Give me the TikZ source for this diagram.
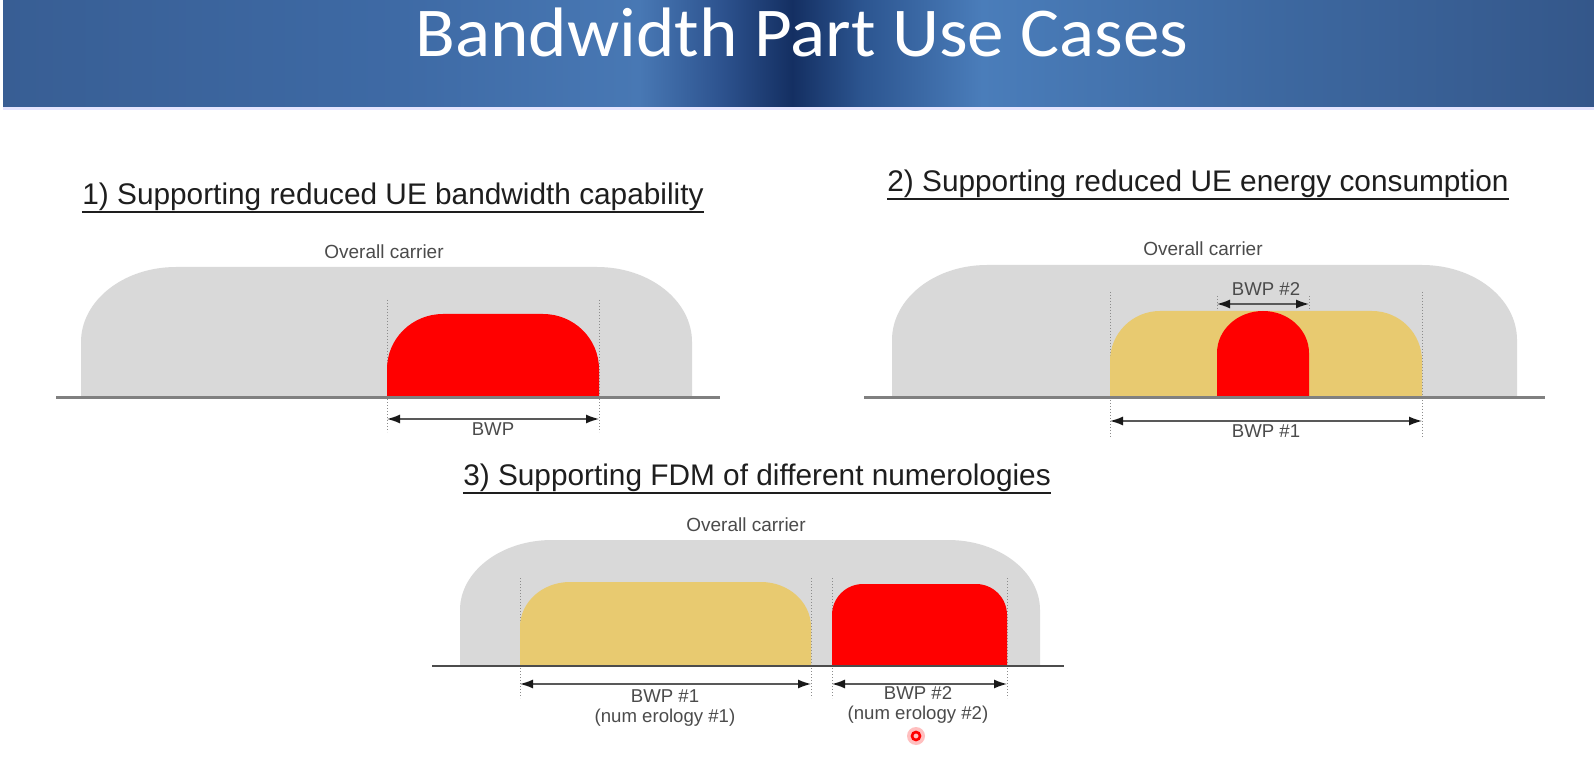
\documentclass[tikz,border=0pt]{standalone}
\usepackage{fontspec}
\setmainfont{Liberation Sans}
\newfontfamily\titlefont{Carlito}
\usetikzlibrary{arrows.meta}
\definecolor{carrier}{RGB}{217,217,217}
\definecolor{bwpred}{RGB}{255,0,0}
\definecolor{bwpyel}{RGB}{232,202,112}
\definecolor{baseln}{RGB}{128,128,128}
\definecolor{ttxt}{RGB}{30,30,30}
\definecolor{ltxt}{RGB}{75,75,75}
\definecolor{hbA}{RGB}{56,94,148}
\definecolor{hbB}{RGB}{62,106,165}
\definecolor{hbC}{RGB}{72,120,180}
\definecolor{hbD}{RGB}{46,84,144}
\definecolor{hbE}{RGB}{20,47,98}
\definecolor{hbF}{RGB}{44,85,144}
\definecolor{hbG}{RGB}{74,125,186}
\definecolor{hbH}{RGB}{61,104,160}
\definecolor{hbI}{RGB}{52,87,138}
\pgfdeclarehorizontalshading{hdr}{100bp}{color(0bp)=(hbA); color(25bp)=(hbA); color(37.5bp)=(hbB); color(45bp)=(hbC); color(47.5bp)=(hbD); color(49.8bp)=(hbE); color(52bp)=(hbF); color(55.75bp)=(hbG); color(65bp)=(hbH); color(75bp)=(hbI); color(100bp)=(hbI)}
\newcommand\bumpshape[7]{%
  \fill[#1] (#2,#5) -- (#2,#4+#7) .. controls (#2,#4+0.448*#7) and (#2+0.448*#6,#4) .. (#2+#6,#4)
    -- (#3-#6,#4) .. controls (#3-0.448*#6,#4) and (#3,#4+0.448*#7) .. (#3,#4+#7) -- (#3,#5) -- cycle;}
\tikzset{
  ttl/.style={inner sep=0pt, font=\fontsize{14.9}{17}\selectfont, text=ttxt},
  ul/.style={draw=ttxt, line width=0.9pt},
  lbl/.style={inner sep=0pt, font=\fontsize{9.3}{10}\selectfont, text=ltxt, align=center},
  octxt/.style={inner sep=0pt, font=\fontsize{9.5}{11}\selectfont, text=ltxt},
  dimline/.style={{Latex[length=6.5pt,width=4.5pt,color=black!90]}-{Latex[length=6.5pt,width=4.5pt,color=black!90]}, line width=0.7pt, draw=black!65},
  guide/.style={draw=black!45, line width=0.3pt, dash pattern=on 0.6pt off 0.9pt},
  axisline/.style={draw=baseln, line width=1.5pt},
}
\begin{document}
\begin{tikzpicture}[x=0.5pt,y=-0.5pt]
\fill[white] (0,0) rectangle (1594,774);
\useasboundingbox (0,0) rectangle (1594,774);
% header
\shade[shading=hdr] (3,0) rectangle (1594,107);
\fill[blue!10!white] (3,107) rectangle (1594,110);
\node[anchor=base, inner sep=0pt, text=white, font=\titlefont\fontsize{35}{40}\selectfont] (title) at (802,57) {\scalebox{1.045}[1]{Bandwidth Part Use Cases}};

% ---------- panel 1 ----------
\node[ttl, anchor=base] (t1) at (393,205) {1) Supporting reduced UE bandwidth capability};
\draw[ul] ([yshift=-3.5pt]t1.base west) -- ([yshift=-3.5pt]t1.base east);
\node[octxt] (oc1) at (384,252) {Overall carrier};
\bumpshape{carrier}{81}{692}{267}{398}{95}{75}
\coordinate (g1a) at (387,300); \coordinate (g1b) at (387,432);
\coordinate (g1c) at (599,300); \coordinate (g1d) at (599,432);
\draw[guide] (g1a) -- (g1b); \draw[guide] (g1c) -- (g1d);
\bumpshape{bwpred}{387}{599}{314}{398}{56}{55}
\coordinate (b1l) at (56,398); \coordinate (b1r) at (720,398);
\draw[axisline] (b1l) -- (b1r);
\coordinate (a1l) at (387,419); \coordinate (a1r) at (599,419);
\draw[dimline] (a1l) -- (a1r);
\node[lbl, anchor=north] (bwp1) at (493,422) {BWP};

% ---------- panel 2 ----------
\node[ttl, anchor=base] (t2) at (1198,192) {2) Supporting reduced UE energy consumption};
\draw[ul] ([yshift=-3.5pt]t2.base west) -- ([yshift=-3.5pt]t2.base east);
\node[octxt] (oc2) at (1203,249) {Overall carrier};
\bumpshape{carrier}{892}{1517}{265}{398}{95}{75}
\coordinate (g2a) at (1110,292); \coordinate (g2b) at (1110,437);
\coordinate (g2c) at (1422,292); \coordinate (g2d) at (1422,437);
\coordinate (g2e) at (1217,296); \coordinate (g2f) at (1217,398);
\coordinate (g2g) at (1309,296); \coordinate (g2h) at (1309,398);
\draw[guide] (g2a) -- (g2b); \draw[guide] (g2c) -- (g2d);
\draw[guide] (g2e) -- (g2f); \draw[guide] (g2g) -- (g2h);
\bumpshape{bwpyel}{1110}{1422}{311}{398}{50}{50}
\bumpshape{bwpred}{1217}{1309}{311}{398}{46}{42}
\coordinate (b2l) at (864,398); \coordinate (b2r) at (1545,398);
\draw[axisline] (b2l) -- (b2r);
\coordinate (a2l) at (1217,304); \coordinate (a2r) at (1309,304);
\draw[dimline] (a2l) -- (a2r);
\node[lbl] (bwp22) at (1266,289) {BWP \#2};
\coordinate (a3l) at (1110,421); \coordinate (a3r) at (1422,421);
\draw[dimline] (a3l) -- (a3r);
\node[lbl, anchor=north] (bwp21) at (1266,424) {BWP \#1};

% ---------- panel 3 ----------
\node[ttl, anchor=base] (t3) at (757,486) {3) Supporting FDM of different numerologies};
\draw[ul] ([yshift=-3.5pt]t3.base west) -- ([yshift=-3.5pt]t3.base east);
\node[octxt] (oc3) at (746,525) {Overall carrier};
\bumpshape{carrier}{460}{1040}{540}{666}{92}{70}
\coordinate (g3a) at (520,578); \coordinate (g3b) at (520,698);
\coordinate (g3c) at (811,578); \coordinate (g3d) at (811,698);
\coordinate (g3e) at (832,578); \coordinate (g3f) at (832,698);
\coordinate (g3g) at (1007,578); \coordinate (g3h) at (1007,698);
\draw[guide] (g3a) -- (g3b); \draw[guide] (g3c) -- (g3d);
\draw[guide] (g3e) -- (g3f); \draw[guide] (g3g) -- (g3h);
\bumpshape{bwpyel}{520}{811}{582}{666}{50}{45}
\bumpshape{bwpred}{832}{1007}{584}{666}{31}{31}
\coordinate (b3l) at (432,666); \coordinate (b3r) at (1064,666);
\draw[axisline, draw=black!70, line width=1pt] (b3l) -- (b3r);
\coordinate (a4l) at (520,684); \coordinate (a4r) at (811,684);
\draw[dimline] (a4l) -- (a4r);
\coordinate (a5l) at (832,684); \coordinate (a5r) at (1007,684);
\draw[dimline] (a5l) -- (a5r);
\node[lbl, anchor=north] (bwp31) at (665,689) {BWP \#1\\(num erology \#1)};
\node[lbl, anchor=north] (bwp32) at (918,686) {BWP \#2\\(num erology \#2)};
% pointer mark
\fill[red!25] (916,736) circle (9);
\draw[red, line width=1.3pt] (916,736) circle (4);
\end{tikzpicture}
\end{document}
